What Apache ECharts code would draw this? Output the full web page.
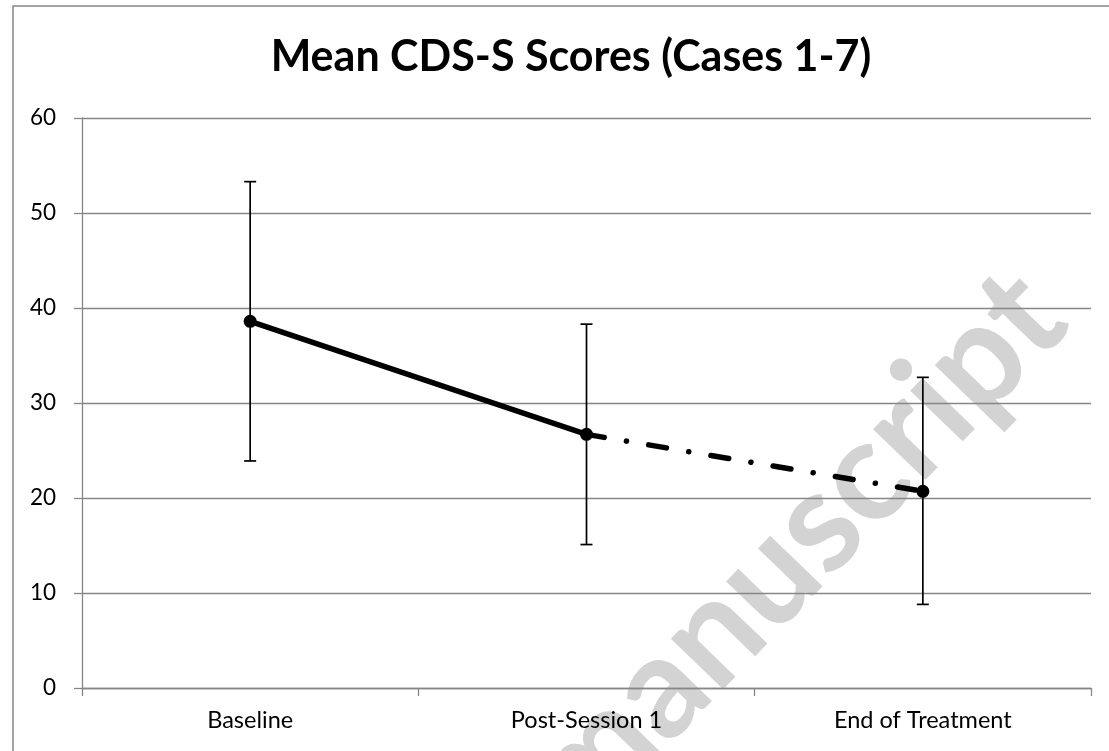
<!DOCTYPE html>
<html>
<head>
<meta charset="utf-8">
<script src="https://cdn.jsdelivr.net/npm/echarts@6/dist/echarts.min.js"></script>
<style>
html,body{margin:0;padding:0;background:#fff;}
#chart{width:1109px;height:751px;}
</style>
</head>
<body>
<div id="chart"></div>
<script>
var categories = ['Baseline', 'Post-Session 1', 'End of Treatment'];
var meanScores = [38.6, 26.7, 20.7];
var errLow = [23.9, 15.1, 8.8];
var errHigh = [53.3, 38.3, 32.7];
var yTicks = [0, 10, 20, 30, 40, 50, 60];

var solidPart = [meanScores[0], meanScores[1], null];
var dashedPart = [null, meanScores[1], meanScores[2]];
var errData = categories.map(function (c, i) { return [i, errLow[i], errHigh[i]]; });

var chart = echarts.init(document.getElementById('chart'));
var gray = '#868686';
chart.setOption({
  animation: false,
  backgroundColor: '#fff',
  title: {
    text: 'Mean CDS-S Scores (Cases 1-7)',
    left: 566, top: 31, textAlign: 'center',
    textStyle: { fontFamily: 'Lato', fontWeight: 'bold', fontSize: 43, color: '#000' }
  },
  graphic: [
    { type: 'rect', z: -2, silent: true,
      shape: { x: 13, y: 6, width: 1300, height: 1000 },
      style: { fill: 'none', stroke: gray, lineWidth: 1.5 } },
    { type: 'text', z: -1, silent: true,
      x: 796, y: 548, rotation: 46 * Math.PI / 180,
      style: { text: 'manuscript', fill: '#d3d3d3', fontFamily: 'Lato', fontWeight: 'bold', fontSize: 142,
        align: 'center', verticalAlign: 'middle' } }
  ],
  grid: { left: 82, right: 18, top: 118, bottom: 63, containLabel: false },
  xAxis: {
    type: 'category', data: categories, boundaryGap: true,
    axisLine: { lineStyle: { color: gray, width: 1.3 } },
    axisTick: { show: true, length: 8, inside: false, alignWithLabel: false, lineStyle: { color: gray, width: 1.3 } },
    axisLabel: { color: '#000', fontFamily: 'Lato', fontSize: 23.5, margin: 20 },
    splitLine: { show: false }
  },
  yAxis: {
    type: 'value', min: yTicks[0], max: yTicks[yTicks.length - 1], interval: 10,
    axisLine: { show: true, lineStyle: { color: gray, width: 1.3 } },
    axisTick: { show: true, length: 8, lineStyle: { color: gray, width: 1.3 } },
    axisLabel: { color: '#000', fontFamily: 'Lato', fontSize: 22.5, margin: 26 },
    splitLine: { show: true, lineStyle: { color: gray, width: 1.3 } }
  },
  series: [
    { type: 'custom', z: 3, data: errData,
      renderItem: function (params, api) {
        var x = api.value(0);
        var lo = api.coord([x, api.value(1)]);
        var hi = api.coord([x, api.value(2)]);
        var w = 6;
        var st = { stroke: '#000', lineWidth: 1.7 };
        return { type: 'group', children: [
          { type: 'line', shape: { x1: lo[0], y1: lo[1], x2: hi[0], y2: hi[1] }, style: st },
          { type: 'line', shape: { x1: lo[0] - w, y1: lo[1], x2: lo[0] + w, y2: lo[1] }, style: st },
          { type: 'line', shape: { x1: hi[0] - w, y1: hi[1], x2: hi[0] + w, y2: hi[1] }, style: st }
        ] };
      }
    },
    { type: 'line', z: 4, data: solidPart, showSymbol: false, symbol: 'none', connectNulls: false,
      lineStyle: { color: '#000', width: 5.5, cap: 'round' } },
    { type: 'line', z: 4, data: dashedPart, showSymbol: false, symbol: 'none', connectNulls: false,
      lineStyle: { color: '#000', width: 5.5, cap: 'round', type: [18, 22.5, 0.1, 22.5] } },
    { type: 'scatter', z: 5, data: meanScores, symbol: 'circle', symbolSize: 13,
      itemStyle: { color: '#000', opacity: 1 } }
  ]
});
</script>
</body>
</html>
